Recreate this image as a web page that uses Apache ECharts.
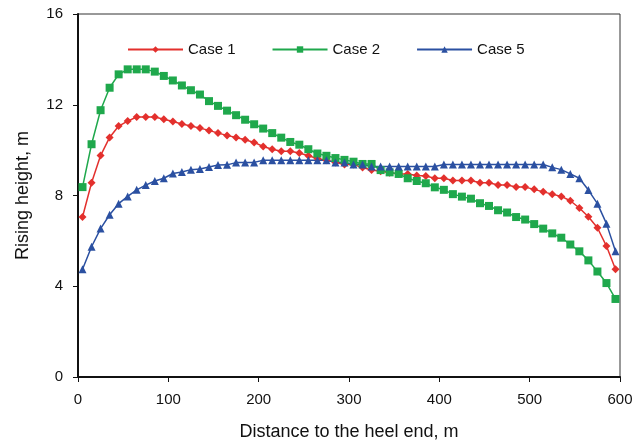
<!DOCTYPE html>
<html>
<head>
<meta charset="utf-8">
<script src="https://cdn.jsdelivr.net/npm/echarts@6/dist/echarts.min.js"></script>
<style>html,body{margin:0;padding:0;background:#fff}#c{width:642px;height:446px}</style>
</head>
<body>
<div id="c"></div>
<script>
const distance = [5,15,25,35,45,55,65,75,85,95,105,115,125,135,145,155,165,175,185,195,205,215,225,235,245,255,265,275,285,295,305,315,325,335,345,355,365,375,385,395,405,415,425,435,445,455,465,475,485,495,505,515,525,535,545,555,565,575,585,595];
const case1 = [7.05,8.56,9.76,10.56,11.06,11.28,11.46,11.46,11.46,11.36,11.26,11.15,11.06,10.97,10.87,10.75,10.65,10.56,10.46,10.34,10.16,10.04,9.95,9.95,9.87,9.75,9.63,9.55,9.46,9.37,9.37,9.23,9.12,9.07,9.0,8.95,8.95,8.88,8.86,8.76,8.76,8.66,8.66,8.66,8.56,8.56,8.46,8.46,8.37,8.37,8.27,8.16,8.06,7.96,7.77,7.45,7.06,6.58,5.77,4.75];
const case2 = [8.37,10.26,11.76,12.75,13.34,13.56,13.56,13.56,13.46,13.27,13.07,12.85,12.64,12.45,12.16,11.95,11.74,11.54,11.34,11.14,10.95,10.75,10.55,10.36,10.24,10.04,9.85,9.75,9.65,9.57,9.49,9.39,9.39,9.12,9.02,8.95,8.76,8.64,8.54,8.36,8.25,8.06,7.95,7.86,7.66,7.54,7.35,7.25,7.05,6.94,6.74,6.54,6.33,6.14,5.84,5.54,5.14,4.65,4.14,3.44];
const case5 = [4.75,5.74,6.54,7.15,7.64,7.96,8.25,8.46,8.64,8.76,8.97,9.04,9.14,9.17,9.26,9.34,9.35,9.45,9.45,9.46,9.55,9.55,9.55,9.55,9.55,9.55,9.55,9.55,9.46,9.46,9.37,9.37,9.28,9.28,9.28,9.28,9.28,9.28,9.28,9.28,9.37,9.37,9.37,9.37,9.37,9.37,9.37,9.37,9.37,9.37,9.37,9.37,9.24,9.14,8.95,8.76,8.24,7.64,6.76,5.54];
const seriesNames = ['Case 1','Case 2','Case 5'];
const xTitle = 'Distance to the heel end, m';
const yTitle = 'Rising height, m';

const colors = ['#e3302d','#1fa84c','#2b50a1'];
const symbols = ['diamond','rect','triangle'];
const sizes = [8,8,8];
const datasets = [case1, case2, case5];
const font = 'Liberation Sans, Arial, sans-serif';

const chart = echarts.init(document.getElementById('c'), null, {renderer:'canvas'});
chart.setOption({
  animation: false,
  backgroundColor: '#fff',
  color: colors,
  textStyle: {fontFamily: font},
  grid: {left: 78, right: 22, top: 14, bottom: 65, show: true, borderColor: '#333', borderWidth: 1},
  legend: {
    top: 37, left: 122,
    itemWidth: 55, itemHeight: 8, itemGap: 36,
    textStyle: {fontSize: 15, color: '#111', fontFamily: font},
    data: seriesNames
  },
  xAxis: {
    type: 'value', min: 0, max: 600, interval: 100,
    name: xTitle, nameLocation: 'middle', nameGap: 46,
    nameTextStyle: {fontSize: 18, color: '#111', fontFamily: font},
    axisLine: {show: true, lineStyle: {color: '#111', width: 2}},
    axisTick: {show: true, length: 5, lineStyle: {color: '#111', width: 1}},
    axisLabel: {fontSize: 15, color: '#111', margin: 15, fontFamily: font},
    splitLine: {show: false}
  },
  yAxis: {
    type: 'value', min: 0, max: 16, interval: 4,
    name: yTitle, nameLocation: 'middle', nameGap: 46,
    nameTextStyle: {fontSize: 18, color: '#111', fontFamily: font},
    axisLine: {show: true, lineStyle: {color: '#111', width: 2}},
    axisTick: {show: true, length: 5, lineStyle: {color: '#111', width: 1}},
    axisLabel: {fontSize: 15, color: '#111', margin: 15, fontFamily: font},
    splitLine: {show: false}
  },
  series: seriesNames.map((n, i) => ({
    name: n, type: 'line',
    data: distance.map((d, j) => [d, datasets[i][j]]),
    symbol: symbols[i], symbolSize: sizes[i], showSymbol: true,
    lineStyle: {width: 1.5, color: colors[i]},
    itemStyle: {color: colors[i]}
  }))
});
</script>
</body>
</html>
